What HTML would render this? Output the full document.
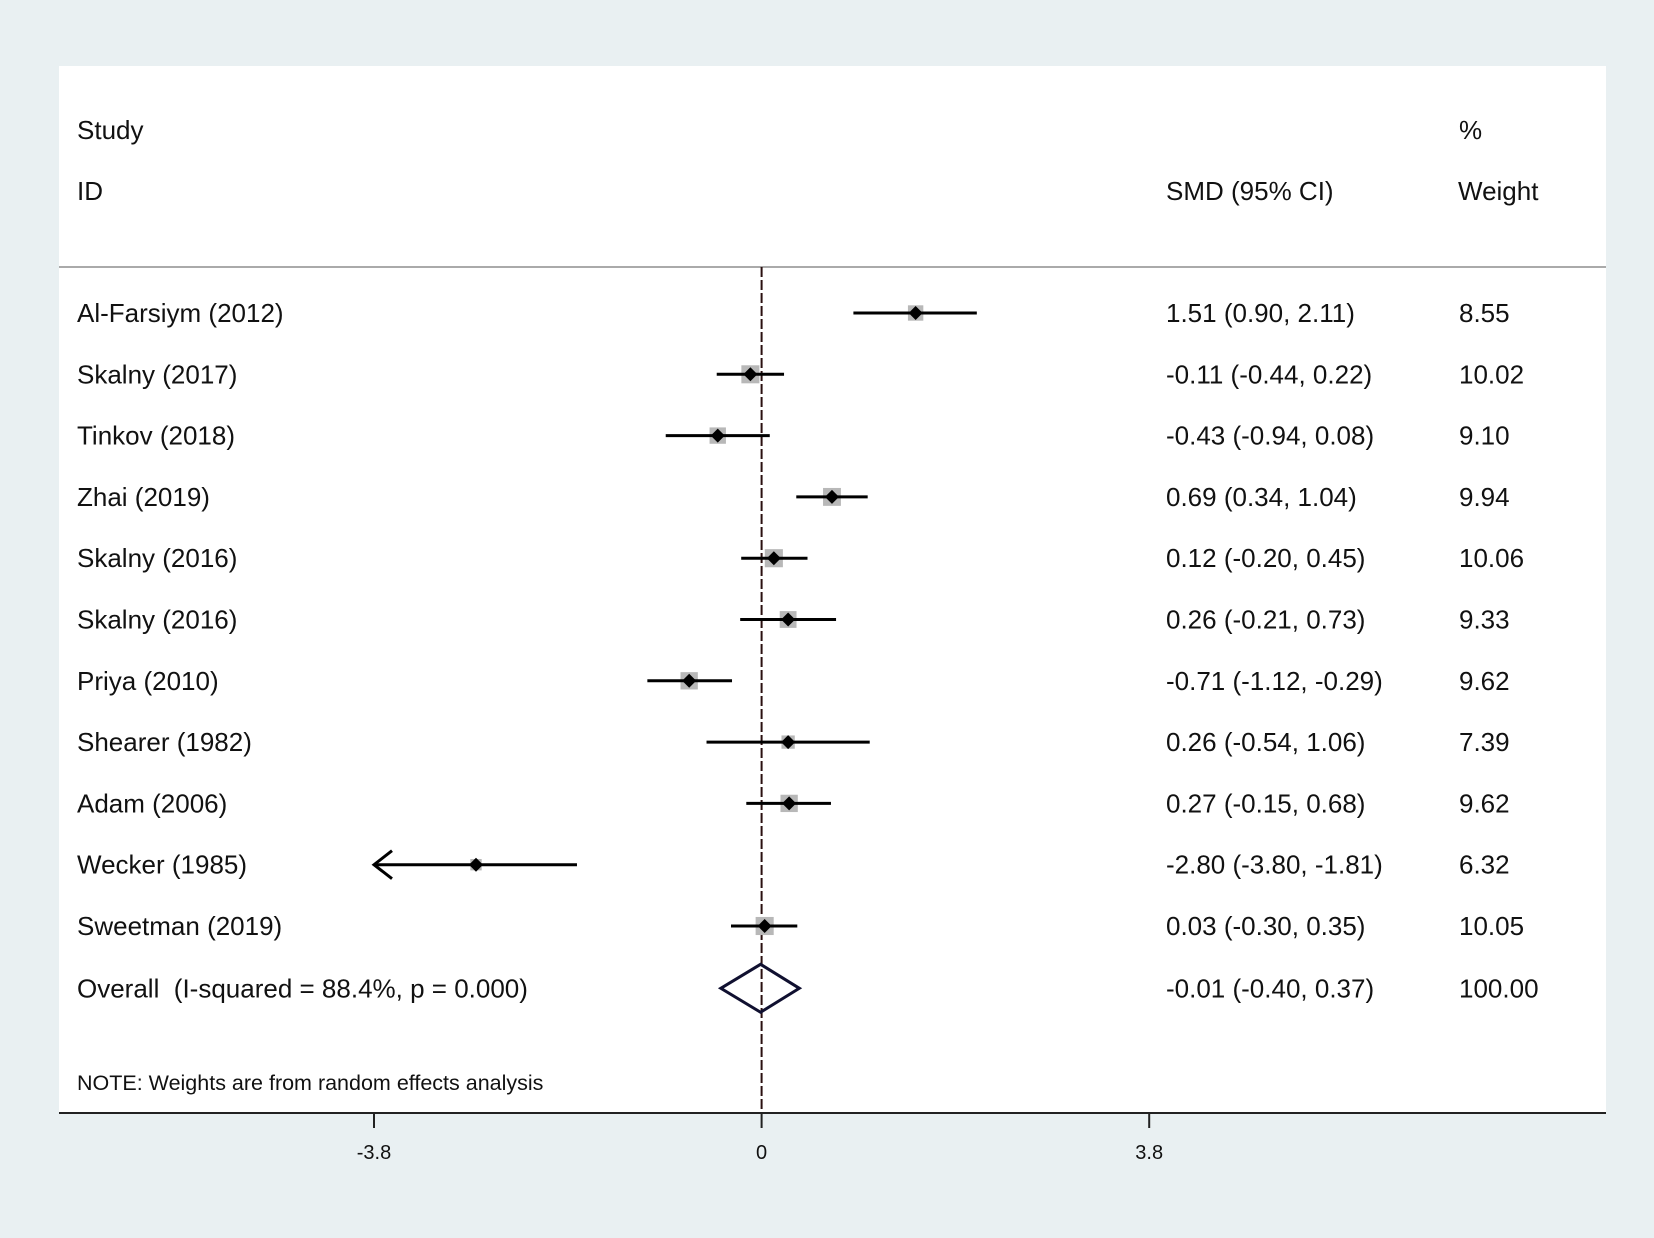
<!DOCTYPE html>
<html><head><meta charset="utf-8"><style>
body{margin:0;background:#e9f0f2;}
svg{display:block;font-family:"Liberation Sans",sans-serif;}
</style></head><body>
<svg id="c" width="1654" height="1238">
<rect x="0" y="0" width="1654" height="1238" fill="#e9f0f2"/>
<rect x="59" y="66" width="1547" height="1047" fill="#ffffff"/>
<line x1="59" y1="267" x2="1606" y2="267" stroke="#aaa" stroke-width="2"/>
<g font-size="26" fill="#111">
<text x="77" y="139">Study</text>
<text x="77" y="200">ID</text>
<text x="1166" y="200">SMD (95% CI)</text>
<text x="1459" y="139">%</text>
<text x="1458" y="200">Weight</text>
</g>
<text x="77" y="1090" font-size="21.5" fill="#111">NOTE: Weights are from random effects analysis</text>
<g id="plot"></g>
</svg>
<script>
const studies=["Al-Farsiym (2012)","Skalny (2017)","Tinkov (2018)","Zhai (2019)","Skalny (2016)","Skalny (2016)","Priya (2010)","Shearer (1982)","Adam (2006)","Wecker (1985)","Sweetman (2019)"];
const smd=[1.51,-0.11,-0.43,0.69,0.12,0.26,-0.71,0.26,0.27,-2.80,0.03];
const lower=[0.90,-0.44,-0.94,0.34,-0.20,-0.21,-1.12,-0.54,-0.15,-3.80,-0.30];
const upper=[2.11,0.22,0.08,1.04,0.45,0.73,-0.29,1.06,0.68,-1.81,0.35];
const weights=[8.55,10.02,9.10,9.94,10.06,9.33,9.62,7.39,9.62,6.32,10.05];
const overall=[-0.01,-0.40,0.37];
const overallLabel="Overall  (I-squared = 88.4%, p = 0.000)";
const xTicks=[-3.8,0,3.8];
const xMin=-3.8;
const NS="http://www.w3.org/2000/svg";
const g=document.getElementById('plot');
const x=v=>761.6+v*102;
const rowY=i=>313+i*61.3;
const fmt=v=>v.toFixed(2);
const FS=26;
function el(t,a,txt){const e=document.createElementNS(NS,t);for(const k in a)e.setAttribute(k,a[k]);if(txt!==undefined)e.textContent=txt;g.appendChild(e);return e;}
let zl=el('line',{x1:x(0),y1:267,x2:x(0),y2:1113,stroke:'#2a1010','stroke-width':2,'stroke-dasharray':'10,3'});


studies.forEach((s,i)=>{
 const y=rowY(i);
 let t=el('text',{x:77,y:y+9,'font-size':FS,fill:'#111'},s);
 
 
 const lo=Math.max(lower[i],xMin);
 const sz=weights[i]*1.8;
 let sq=el('rect',{x:x(smd[i])-sz/2,y:y-sz/2,width:sz,height:sz,fill:'#b8b8b8'});
 
 
 let ln=el('line',{x1:x(lo),y1:y,x2:x(upper[i]),y2:y,stroke:'#000','stroke-width':3});
 
 
 if(lower[i]<=xMin){
  let ar=el('polyline',{points:`${x(lo)+18},${y-14} ${x(lo)},${y} ${x(lo)+18},${y+14}`,fill:'none',stroke:'#000','stroke-width':3});
  
  
 }
 const d=7;
 let dm=el('polygon',{points:`${x(smd[i])},${y-d} ${x(smd[i])+d},${y} ${x(smd[i])},${y+d} ${x(smd[i])-d},${y}`,fill:'#000'});
 
 
 let ci=el('text',{x:1166,y:y+9,'font-size':FS,fill:'#111'},`${fmt(smd[i])} (${fmt(lower[i])}, ${fmt(upper[i])})`);
 
 
 let w=el('text',{x:1459,y:y+9,'font-size':FS,fill:'#111'},fmt(weights[i]));
 
 
});
const oy=rowY(11)+1;
let ol=el('text',{x:77,y:oy+9,'font-size':FS,fill:'#111',style:'white-space:pre'},overallLabel);


let od=el('polygon',{points:`${x(overall[1])},${oy} ${x(overall[0])},${oy-24} ${x(overall[2])},${oy} ${x(overall[0])},${oy+24}`,fill:'none',stroke:'#101030','stroke-width':3});


let oc=el('text',{x:1166,y:oy+9,'font-size':FS,fill:'#111'},`${fmt(overall[0])} (${fmt(overall[1])}, ${fmt(overall[2])})`);


let ow=el('text',{x:1459,y:oy+9,'font-size':FS,fill:'#111'},"100.00");


let ax=el('line',{x1:59,y1:1113,x2:1606,y2:1113,stroke:'#222','stroke-width':2});


xTicks.forEach(v=>{
 let tk=el('line',{x1:x(v),y1:1113,x2:x(v),y2:1128,stroke:'#222','stroke-width':2});
 
 
 let tl=el('text',{x:x(v),y:1159,'font-size':20,fill:'#111','text-anchor':'middle'},String(v));
 
 
});
</script>
</body></html>
